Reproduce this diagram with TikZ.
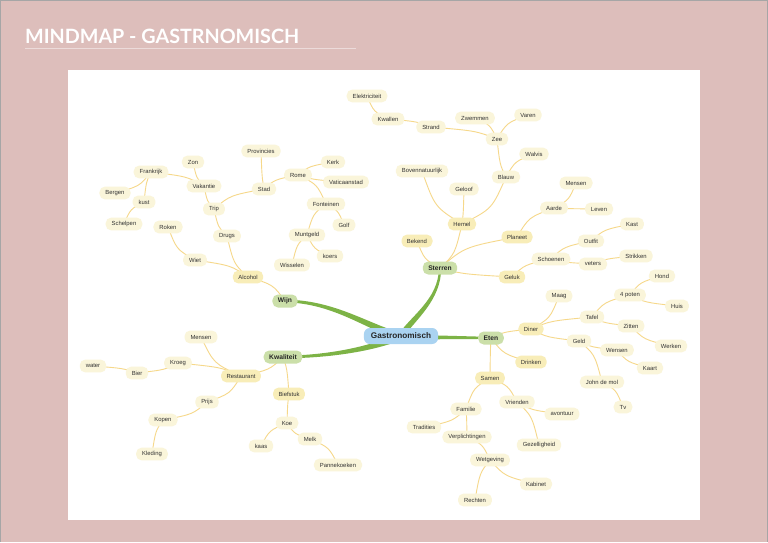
\documentclass[tikz,border=0pt]{standalone}
\usepackage{graphicx}
\usepackage{fontspec}
\setmainfont{Liberation Sans}
\newfontfamily\titlefont{Lato}
\usetikzlibrary{calc,backgrounds}
\definecolor{bgpink}{HTML}{DDBEBB}
\definecolor{rootblue}{HTML}{AAD3F1}
\definecolor{lonegreen}{HTML}{CBDFA9}
\definecolor{ltwoyel}{HTML}{F8EDB8}
\definecolor{lthreeyel}{HTML}{FAF5DA}
\definecolor{edgeyel}{HTML}{F6D88A}
\definecolor{brgreen}{HTML}{7DB346}
\definecolor{txtgray}{HTML}{333333}
\tikzset{
  base/.style={rounded corners=5.5pt, inner ysep=0pt, text=txtgray, font=\fontsize{5.9}{6}\selectfont},
  rootnode/.style={base, fill=rootblue, minimum height=16pt, inner xsep=7pt, text=black!85, font=\fontsize{8.2}{9}\selectfont\bfseries, rounded corners=6pt},
  lone/.style={base, fill=lonegreen, minimum height=13pt, inner xsep=5.5pt, text=black!85, font=\fontsize{6.7}{7}\selectfont\bfseries},
  ltwo/.style={base, fill=ltwoyel, minimum height=12.8pt, inner xsep=5.5pt},
  lthree/.style={base, fill=lthreeyel, minimum height=12.8pt, inner xsep=6pt},
  yl/.style={draw=edgeyel, line width=0.9pt},
}
% vertical-dominant link: arrives (nearly) vertically at child
\newcommand\lkv[2]{%
  \path ($(#1.center)!0.68!(#2.center)$) coordinate (qa) ($(#1.center)!0.32!(#2.center)$) coordinate (qb);
  \draw[yl] (#1.center) .. controls (qa |- qb) .. (#2.center);}
% horizontal-dominant link: arrives (nearly) horizontally at child
\newcommand\lkh[2]{%
  \path ($(#1.center)!0.68!(#2.center)$) coordinate (qa) ($(#1.center)!0.32!(#2.center)$) coordinate (qb);
  \draw[yl] (#1.center) .. controls (qb |- qa) .. (#2.center);}
\begin{document}
\begin{tikzpicture}[x=1pt,y=-1pt]
\useasboundingbox (0,0) rectangle (768,542);
% nodes
\node[rootnode] (gas) at (401,336) {Gastronomisch};
\node[lone] (wijn) at (285,301) {Wijn};
\node[lone] (sterren) at (440,268) {Sterren};
\node[lone] (eten) at (491,338) {Eten};
\node[lone] (kwal) at (283,357) {Kwaliteit};
% Wijn subtree
\node[ltwo] (alcohol) at (248,277) {Alcohol};
\node[lthree] (wiet) at (195,260) {Wiet};
\node[lthree] (roken) at (168,227) {Roken};
\node[lthree] (drugs) at (227,236) {Drugs};
\node[lthree] (trip) at (214,209) {Trip};
\node[lthree] (vakantie) at (204,186) {Vakantie};
\node[lthree] (zon) at (193,162) {Zon};
\node[lthree] (frankrijk) at (151,172) {Frankrijk};
\node[lthree] (bergen) at (115,193) {Bergen};
\node[lthree] (kust) at (144,202) {kust};
\node[lthree] (schelpen) at (124,224) {Schelpen};
\node[lthree] (stad) at (264,189) {Stad};
\node[lthree] (provincies) at (261,151) {Provincies};
\node[lthree] (rome) at (298,175) {Rome};
\node[lthree] (kerk) at (333,162) {Kerk};
\node[lthree] (vatican) at (346,182) {Vaticaanstad};
\node[lthree] (fonteinen) at (326,204) {Fonteinen};
\node[lthree] (golf) at (344,225) {Golf};
\node[lthree] (muntgeld) at (307,235) {Muntgeld};
\node[lthree] (koers) at (330,256) {koers};
\node[lthree] (wisselen) at (292,265) {Wisselen};
% Sterren subtree
\node[ltwo] (bekend) at (417,241) {Bekend};
\node[ltwo] (hemel) at (462,224) {Hemel};
\node[ltwo] (planeet) at (517,237) {Planeet};
\node[ltwo] (geluk) at (512,277) {Geluk};
\node[lthree] (boven) at (422,171) {Bovennatuurlijk};
\node[lthree] (geloof) at (464,189) {Geloof};
\node[lthree] (blauw) at (506,177) {Blauw};
\node[lthree] (walvis) at (534,154) {Walvis};
\node[lthree] (zee) at (497,139) {Zee};
\node[lthree] (zwemmen) at (475,118) {Zwemmen};
\node[lthree] (varen) at (528,115) {Varen};
\node[lthree] (strand) at (431,127) {Strand};
\node[lthree] (kwallen) at (388,119) {Kwallen};
\node[lthree] (elektr) at (367,96) {Elektriciteit};
\node[lthree] (aarde) at (554,208) {Aarde};
\node[lthree] (mensenA) at (576,183) {Mensen};
\node[lthree] (leven) at (599,209) {Leven};
\node[lthree] (schoenen) at (551,259) {Schoenen};
\node[lthree] (outfit) at (591,241) {Outfit};
\node[lthree] (kast) at (632,224) {Kast};
\node[lthree] (veters) at (593,264) {veters};
\node[lthree] (strikken) at (636,256) {Strikken};
% Eten subtree
\node[ltwo] (diner) at (531,329) {Diner};
\node[ltwo] (drinken) at (531,362) {Drinken};
\node[ltwo] (samen) at (490,378) {Samen};
\node[lthree] (maag) at (559,296) {Maag};
\node[lthree] (tafel) at (592,317) {Tafel};
\node[lthree] (poten) at (630,295) {4 poten};
\node[lthree] (hond) at (662,276) {Hond};
\node[lthree] (huis) at (677,306) {Huis};
\node[lthree] (zitten) at (631,326) {Zitten};
\node[lthree] (werken) at (671,346) {Werken};
\node[lthree] (geld) at (579,341) {Geld};
\node[lthree] (wensen) at (617,350) {Wensen};
\node[lthree] (kaart) at (650,368) {Kaart};
\node[lthree] (john) at (602,382) {John de mol};
\node[lthree] (tv) at (623,407) {Tv};
\node[lthree] (familie) at (466,409) {Familie};
\node[lthree] (tradities) at (424,427) {Tradities};
\node[lthree] (verpl) at (467,437) {Verplichtingen};
\node[lthree] (wetgeving) at (490,460) {Wetgeving};
\node[lthree] (rechten) at (475,500) {Rechten};
\node[lthree] (kabinet) at (536,484) {Kabinet};
\node[lthree] (vrienden) at (517,402) {Vrienden};
\node[lthree] (avontuur) at (562,414) {avontuur};
\node[lthree] (gezellig) at (539,445) {Gezelligheid};
% Kwaliteit subtree
\node[ltwo] (restaurant) at (241,376) {Restaurant};
\node[ltwo] (biefstuk) at (289,394) {Biefstuk};
\node[lthree] (mensenK) at (201,337) {Mensen};
\node[lthree] (kroeg) at (178,363) {Kroeg};
\node[lthree] (bier) at (137,373) {Bier};
\node[lthree] (water) at (93,366) {water};
\node[lthree] (prijs) at (207,402) {Prijs};
\node[lthree] (kopen) at (163,420) {Kopen};
\node[lthree] (kleding) at (152,454) {Kleding};
\node[lthree] (koe) at (287,423) {Koe};
\node[lthree] (kaas) at (261,446) {kaas};
\node[lthree] (melk) at (310,439) {Melk};
\node[lthree] (pannek) at (338,465) {Pannekoeken};
% title
\node[anchor=base west, inner sep=0pt, text=white, font=\titlefont\bfseries] (title) at (25,43.5) {\resizebox{274pt}{!}{MINDMAP - GASTRNOMISCH}};
\begin{pgfonlayer}{background}
  \fill[bgpink] (0,0) rectangle (768,542);
  \draw[gray!70, line width=1pt] (0.5,542) -- (0.5,0.5) -- (767.5,0.5) -- (767.5,542);
  \fill[white] (68,70) rectangle (700,520);
  \draw[white!45!bgpink, line width=1pt] (25,48) -- (356,48);
  % green main branches (tapered)
  \fill[brgreen] (401,332.5) .. controls (372,326) and (335,299.6) .. (285,299.7) -- (285,302.4) .. controls (335,302.8) and (370,332.5) .. (401,339.5) -- cycle;
  \fill[brgreen] (397.5,336) .. controls (409,317) and (438.8,300) .. (438.9,268) -- (441.1,268) .. controls (441.5,300) and (415,320) .. (404.5,336) -- cycle;
  \fill[brgreen] (401,334.5) -- (491,336.9) -- (491,338.9) -- (401,339.5) -- cycle;
  \fill[brgreen] (401,332.5) .. controls (372,346) and (330,355.3) .. (283,355.7) -- (283,358.3) .. controls (332,358.2) and (375,350.5) .. (401,340) -- cycle;
  % yellow links
  \lkh{wijn}{alcohol}
  \lkh{alcohol}{wiet}
  \lkv{alcohol}{drugs}
  \lkv{wiet}{roken}
  \lkv{drugs}{trip}
  \lkv{trip}{vakantie}
  \lkh{trip}{stad}
  \lkv{vakantie}{zon}
  \lkh{vakantie}{frankrijk}
  \lkh{frankrijk}{bergen}
  \lkv{frankrijk}{kust}
  \lkv{kust}{schelpen}
  \lkv{stad}{provincies}
  \lkh{stad}{rome}
  \lkh{rome}{kerk}
  \lkh{rome}{vatican}
  \lkv{rome}{fonteinen}
  \lkv{fonteinen}{golf}
  \lkv{fonteinen}{muntgeld}
  \lkh{muntgeld}{koers}
  \lkv{muntgeld}{wisselen}
  \lkv{sterren}{bekend}
  \lkv{sterren}{hemel}
  \lkh{sterren}{planeet}
  \lkh{sterren}{geluk}
  \lkv{hemel}{boven}
  \lkv{hemel}{geloof}
  \lkv{hemel}{blauw}
  \lkh{blauw}{walvis}
  \lkv{blauw}{zee}
  \lkh{zee}{zwemmen}
  \lkh{zee}{varen}
  \lkh{zee}{strand}
  \lkh{strand}{kwallen}
  \lkv{kwallen}{elektr}
  \lkh{planeet}{aarde}
  \lkv{aarde}{mensenA}
  \lkh{aarde}{leven}
  \lkh{geluk}{schoenen}
  \lkh{schoenen}{outfit}
  \lkh{schoenen}{veters}
  \lkh{outfit}{kast}
  \lkh{veters}{strikken}
  \lkh{eten}{diner}
  \lkh{eten}{drinken}
  \lkv{eten}{samen}
  \lkv{diner}{maag}
  \lkh{diner}{tafel}
  \lkh{diner}{geld}
  \lkh{tafel}{poten}
  \lkh{tafel}{zitten}
  \lkh{poten}{hond}
  \lkh{poten}{huis}
  \lkh{zitten}{werken}
  \lkh{geld}{wensen}
  \lkv{geld}{john}
  \lkh{wensen}{kaart}
  \lkv{john}{tv}
  \lkv{samen}{familie}
  \lkv{samen}{vrienden}
  \lkh{familie}{tradities}
  \lkv{familie}{verpl}
  \lkv{verpl}{wetgeving}
  \lkv{wetgeving}{rechten}
  \lkh{wetgeving}{kabinet}
  \lkh{vrienden}{avontuur}
  \lkv{vrienden}{gezellig}
  \lkh{kwal}{restaurant}
  \lkv{kwal}{biefstuk}
  \lkv{restaurant}{mensenK}
  \lkh{restaurant}{kroeg}
  \lkh{restaurant}{prijs}
  \lkh{kroeg}{bier}
  \lkh{bier}{water}
  \lkh{prijs}{kopen}
  \lkv{kopen}{kleding}
  \lkv{biefstuk}{koe}
  \lkv{koe}{kaas}
  \lkh{koe}{melk}
  \lkv{melk}{pannek}
\end{pgfonlayer}
\end{tikzpicture}
\end{document}
